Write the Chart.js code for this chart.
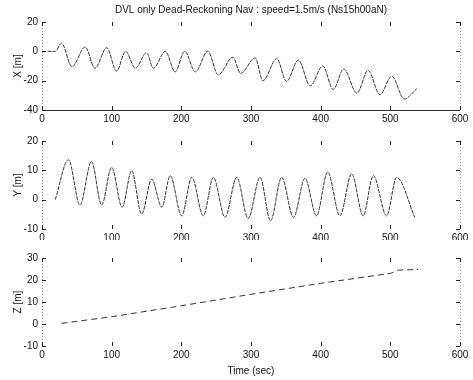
<!DOCTYPE html>
<html>
<head>
<meta charset="utf-8">
<script src="https://cdn.jsdelivr.net/npm/chart.js@4.4.1/dist/chart.umd.min.js"></script>
<style>
  html, body { margin: 0; padding: 0; background: #fff; }
  #wrap { position: relative; width: 473px; height: 380px; overflow: hidden; }
  canvas { position: absolute; left: 0; }
</style>
</head>
<body>
<div id="wrap">
  <canvas id="chartX" width="473" height="130" style="top:0px"></canvas>
  <canvas id="chartY" width="473" height="116" style="top:124px"></canvas>
  <canvas id="chartZ" width="473" height="140" style="top:240px"></canvas>
</div>
<script>
// values
const titleText = 'DVL only Dead-Reckoning Nav : speed=1.5m/s (Ns15h00aN)';
const timeTicks = [0, 100, 200, 300, 400, 500, 600];

const xTime = [8, 19, 28, 43, 62, 76, 93, 107, 120, 134, 150, 160, 177, 191, 205, 220, 238, 253, 274, 285, 306, 317, 337, 351, 368, 385, 403, 418, 433, 452, 468, 485, 502, 520, 538];
const xPos  = [0, 0, 5.5, -10.5, 3, -11.5, 2.5, -13.5, 0, -11.5, -1, -11.5, 0, -14, 0, -14, 0, -16, -4, -15, -4.5, -20, -5, -20.5, -6, -23.5, -10, -26, -12, -28.5, -13, -29.5, -17, -32.5, -25.5];

const yTime = [19, 38, 54.5, 71, 85.6, 100, 115, 128.7, 143, 157.5, 172, 184, 200.5, 215, 231.5, 246, 262.7, 279.5, 296, 313, 328, 344, 361, 377.5, 394, 410, 427.7, 444.5, 461, 475.5, 494.7, 509, 535];
const yPos  = [0, 13.6, -1.8, 13, -1.8, 11, -2.6, 9.9, -4.9, 7, -2.6, 8.2, -5.5, 7.6, -5.5, 7.6, -6, 7.6, -6.4, 7.6, -7.2, 7.6, -6, 7.3, -5.5, 9.4, -5.5, 8.8, -5.5, 8.2, -5.5, 7.6, -6];

const zTime = [28, 100, 200, 300, 400, 500, 512, 540];
const zPos  = [0.3, 3.3, 8.3, 13.5, 18.5, 23, 24.5, 24.8];

const xAxisRange = [-40, 20, 20];
const yAxisRange = [-10, 20, 10];
const zAxisRange = [-10, 30, 10];

const FONT = { family: '"Liberation Sans", Arial, Helvetica, sans-serif', size: 10 };

function pts(ts, vs) {
  return ts.map((t, i) => ({ x: t, y: vs[i] }));
}

const framePlugin = {
  id: 'frame',
  afterDraw(chart, args, opts) {
    const { ctx, chartArea: a, scales } = chart;
    ctx.save();
    ctx.lineWidth = 1;
    // faded left / right axis lines
    ctx.strokeStyle = '#8a8a8a';
    ctx.setLineDash([1, 2]);
    ctx.beginPath();
    ctx.moveTo(Math.round(a.left) + 0.5, a.top);
    ctx.lineTo(Math.round(a.left) + 0.5, a.bottom);
    ctx.moveTo(Math.round(a.right) + 0.5, a.top);
    ctx.lineTo(Math.round(a.right) + 0.5, a.bottom);
    ctx.stroke();
    ctx.setLineDash([]);
    if (opts.bottomLine) {
      ctx.strokeStyle = '#333';
      ctx.beginPath();
      ctx.moveTo(a.left, Math.round(a.bottom) + 0.5);
      ctx.lineTo(a.right, Math.round(a.bottom) + 0.5);
      ctx.stroke();
    }
    // inward tick marks
    ctx.strokeStyle = '#222';
    ctx.beginPath();
    scales.x.ticks.forEach(t => {
      const px = Math.round(scales.x.getPixelForValue(t.value)) + 0.5;
      ctx.moveTo(px, a.bottom); ctx.lineTo(px, a.bottom - 4);
      ctx.moveTo(px, a.top); ctx.lineTo(px, a.top + 4);
    });
    scales.y.ticks.forEach(t => {
      const py = Math.round(scales.y.getPixelForValue(t.value)) + 0.5;
      ctx.moveTo(a.left, py); ctx.lineTo(a.left + 4, py);
      ctx.moveTo(a.right, py); ctx.lineTo(a.right - 4, py);
    });
    ctx.stroke();
    if (opts.title) {
      ctx.fillStyle = '#111';
      ctx.font = FONT.size + 'px ' + FONT.family;
      ctx.textAlign = 'center';
      ctx.textBaseline = 'middle';
      ctx.fillText(opts.title, (a.left + a.right) / 2, 10);
    }
    ctx.restore();
  }
};

function makeChart(id, data, range, label, cfg) {
  return new Chart(document.getElementById(id), {
    type: 'line',
    data: {
      datasets: [{
        data: data,
        borderColor: '#333',
        borderWidth: 1,
        borderDash: cfg.dash,
        pointRadius: 0,
        tension: cfg.smooth ? 0.4 : 0,
        cubicInterpolationMode: cfg.smooth ? 'monotone' : 'default'
      }]
    },
    options: {
      responsive: false,
      devicePixelRatio: 1,
      animation: false,
      layout: { padding: { top: cfg.padTop, right: 13, bottom: 0, left: 0 } },
      plugins: {
        legend: { display: false },
        tooltip: { enabled: false },
        frame: { title: cfg.title || null, bottomLine: !!cfg.bottomLine }
      },
      scales: {
        x: {
          type: 'linear',
          min: timeTicks[0],
          max: timeTicks[timeTicks.length - 1],
          afterBuildTicks: s => { s.ticks = timeTicks.map(v => ({ value: v })); },
          grid: { display: false, drawTicks: false, tickLength: 0 },
          border: { display: false },
          ticks: { color: '#111', font: FONT, padding: 3, maxRotation: 0 },
          title: cfg.xTitle ? { display: true, text: cfg.xTitle, color: '#111', font: FONT, padding: { top: 0, bottom: 3 } } : { display: false },
          afterFit: s => { s.height = cfg.xHeight; }
        },
        y: {
          type: 'linear',
          min: range[0],
          max: range[1],
          ticks: { stepSize: range[2], color: '#111', font: FONT, padding: 4 },
          grid: { display: false, drawTicks: false, tickLength: 0 },
          border: { display: false },
          title: { display: true, text: label, color: '#111', font: FONT, padding: { top: 12, bottom: 0 } },
          afterFit: s => { s.width = 42; }
        }
      }
    },
    plugins: [framePlugin]
  });
}

makeChart('chartX', pts(xTime, xPos), xAxisRange, 'X [m]',
  { smooth: true, dash: [4, 1], padTop: 22, xHeight: 20, title: titleText, bottomLine: true });
makeChart('chartY', pts(yTime, yPos), yAxisRange, 'Y [m]',
  { smooth: true, dash: [4, 1], padTop: 17, xHeight: 11 });
makeChart('chartZ', pts(zTime, zPos), zAxisRange, 'Z [m]',
  { smooth: false, dash: [6, 4], padTop: 18, xHeight: 34, xTitle: 'Time (sec)' });
</script>
</body>
</html>
